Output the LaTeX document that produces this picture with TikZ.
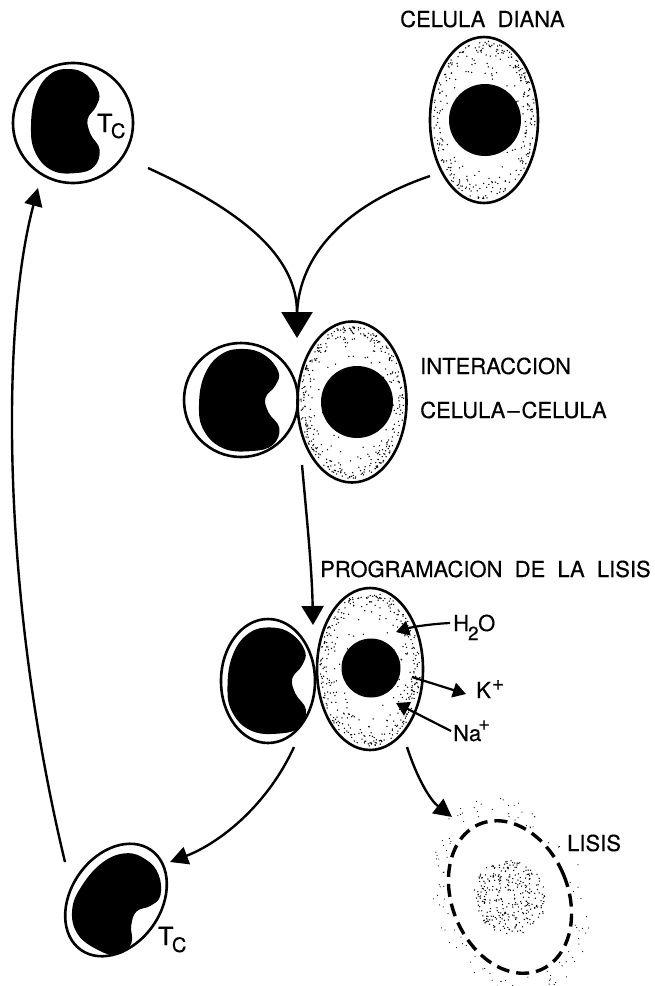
\documentclass[tikz,border=0pt]{standalone}
\usepackage{fontspec}
\setmainfont{TeX Gyre Heros}[WordSpace=2, FakeBold=0.4]
\usetikzlibrary{arrows.meta}

% random stipple inside an elliptic band: cx, cy, rx, ry, count, inner, outer
\newcommand\cellstipple[7]{%
  \foreach \k in {1,...,#5}{%
    \pgfmathsetmacro\sa{360*rnd}%
    \pgfmathsetmacro\sr{#6+(#7-#6)*sqrt(rnd)}%
    \fill ({#1+#3*\sr*cos(\sa)},{#2+#4*\sr*sin(\sa)}) circle[radius=0.75pt];
  }}
% same, with smaller dots
\newcommand\finestipple[7]{%
  \foreach \k in {1,...,#5}{%
    \pgfmathsetmacro\sa{360*rnd}%
    \pgfmathsetmacro\sr{#6+(#7-#6)*rnd}%
    \fill ({#1+#3*\sr*cos(\sa)},{#2+#4*\sr*sin(\sa)}) circle[radius=0.6pt];
  }}

\begin{document}
\begin{tikzpicture}[x=1pt,y=-1pt,
  membrane/.style={line width=2.6pt},
  flow/.style={line width=2.4pt},
  ion/.style={line width=2.2pt},
  bighead/.style={-{Triangle[length=26pt,width=31pt]}},
  midhead/.style={-{Triangle[length=19pt,width=22pt]}},
  smallhead/.style={-{Triangle[length=18pt,width=18pt]}},
  ionhead/.style={-{Triangle[length=13pt,width=15pt]}},
  label/.style={font=\fontsize{22}{22}\selectfont, inner sep=0pt, anchor=base west},
  tclabel/.style={font=\fontsize{25}{25}\selectfont, inner sep=0pt, anchor=base west},
  kidney/.pic={\fill[black] plot[smooth cycle, tension=0.7] coordinates
    {(0.1,-1) (0.6,-0.88) (0.94,-0.55) (0.86,-0.28) (0.62,-0.04) (0.7,0.25)
     (0.96,0.55) (0.8,0.88) (0.3,1) (-0.4,0.95) (-0.88,0.6) (-1,0.1)
     (-0.86,-0.5) (-0.45,-0.9)};},
]
\useasboundingbox (0,0) rectangle (655,986);
\pgfmathsetseed{4711}

% ---------- cytotoxic T cell (top left)
\draw[membrane] (73,123) circle[radius=60pt];
\pic[xscale=35, yscale=52] at (66,121) {kidney};
\node[tclabel] (tc1) at (97,132) {T\kern-1.5pt\raisebox{-6pt}{\fontsize{20}{20}\selectfont C}};

% ---------- target cell
\cellstipple{484}{120}{54}{83}{260}{0.72}{0.95}
\cellstipple{484}{120}{54}{83}{40}{0.45}{0.75}
\draw[membrane] (484,120) ellipse[x radius=54pt, y radius=83pt];
\fill (485,120) circle[radius=36pt];
\node[label] (diana) at (400,27) {CELULA DIANA};

% ---------- cell-cell interaction
\draw[membrane] (241,400) circle[radius=57pt];
\pic[xscale=41, yscale=51] at (240,400) {kidney};
\cellstipple{352}{402}{54.5}{80.5}{320}{0.74}{0.95}
\cellstipple{352}{402}{54.5}{80.5}{40}{0.45}{0.75}
\draw[membrane] (352,402) ellipse[x radius=54.5pt, y radius=80.5pt];
\fill (357,402) circle[radius=36pt];
\node[label] (inter) at (420,374) {INTERACCION};
\node[label] (celcel) at (420,418) {CELULA\kern2pt--\kern2pt CELULA};

% ---------- lytic programming
\draw[membrane] (268,681) ellipse[x radius=47pt, y radius=62pt];
\pic[xscale=40, yscale=53] at (267.5,680.5) {kidney};
\cellstipple{370}{669}{53}{81}{300}{0.72}{0.95}
\cellstipple{370}{669}{53}{81}{60}{0.4}{0.75}
\draw[membrane] (370,669) ellipse[x radius=53pt, y radius=81pt];
\fill (371,668) circle[radius=29.5pt];
\node[label] (prog) at (320,577) {PROGRAMACION DE LA LISIS};

% ion fluxes
\node[label] (h2o) at (453,631) {H\kern-1pt\raisebox{-9pt}{\fontsize{19}{19}\selectfont 2}\kern-0.5pt O};
\node[label] (kion) at (476,698) {K\kern1pt\raisebox{8pt}{\fontsize{21}{21}\selectfont +}};
\node[label] (naion) at (453,741) {Na\kern-3pt\raisebox{11pt}{\fontsize{20}{20}\selectfont +}};
\coordinate (h2oS) at (450,623);  \coordinate (h2oE) at (396,632);
\coordinate (kS)   at (412,677);  \coordinate (kE)   at (466,694);
\coordinate (naS)  at (451,731);  \coordinate (naE)  at (396,703);
\draw[ion, ionhead] (h2oS) .. controls (430,624) and (412,627) .. (h2oE);
\draw[ion, ionhead] (kS) -- (kE);
\draw[ion, ionhead] (naS) -- (naE);

% ---------- recycled T cell (bottom left)
\draw[membrane, rotate around={55:(116,900)}] (116,900) ellipse[x radius=61pt, y radius=45pt];
\pic[rotate=-32, xscale=37, yscale=51] at (116,901) {kidney};
\node[tclabel] (tc2) at (158,945) {T\kern-1.5pt\raisebox{-7pt}{\fontsize{20}{20}\selectfont C}};

% ---------- lysed cell
\begin{scope}[shift={(510,897)}, rotate=22.6]
  \finestipple{0}{0}{58}{79}{110}{1.05}{1.3}
  \cellstipple{0}{0}{36}{38}{300}{0}{1}
  \draw[line width=3.4pt, dash pattern=on 13pt off 7pt] (0,0) ellipse[x radius=58pt, y radius=79pt];
\end{scope}
\node[label] (lisis) at (567,851) {LISIS};

% ---------- connectors
\coordinate (a1s) at (148,168);  \coordinate (a1e) at (297,338);
\coordinate (a2s) at (430,176);  \coordinate (join) at (297,314);
\coordinate (a3s) at (302,465);  \coordinate (a3e) at (313,625);
\coordinate (a4s) at (294,747);  \coordinate (a4e) at (170,862);
\coordinate (a5s) at (407,747);  \coordinate (a5e) at (452,817);
\coordinate (a6s) at (65,862);   \coordinate (a6e) at (38,188);
\draw[flow, bighead] (a1s) .. controls (240,210) and (297,255) .. (a1e);
\draw[flow] (a2s) .. controls (345,205) and (299,255) .. (join);
\draw[flow, midhead] (a3s) .. controls (307,520) and (312,570) .. (a3e);
\draw[flow, smallhead] (a4s) .. controls (265,810) and (215,845) .. (a4e);
\draw[flow, smallhead] (a5s) .. controls (417,778) and (430,800) .. (a5e);
\draw[flow, smallhead] (a6s) .. controls (2,600) and (0,330) .. (a6e);
\end{tikzpicture}
\end{document}
